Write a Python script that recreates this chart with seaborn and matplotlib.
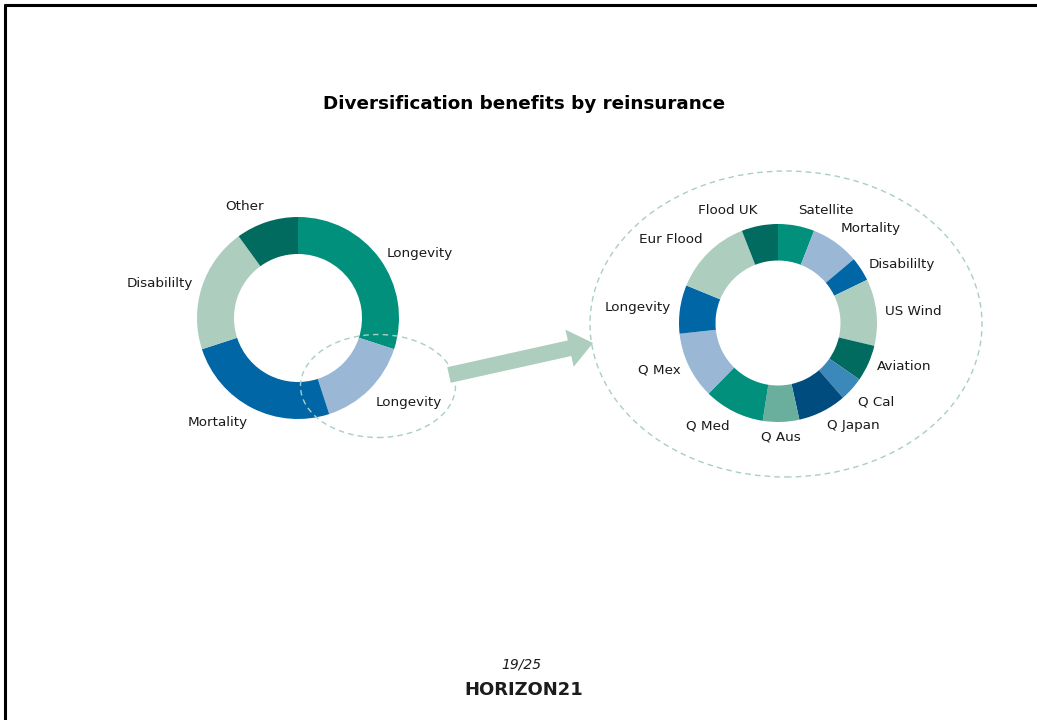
"""
Diversification benefits by reinsurance: two donut charts joined by an arrow.
"""

import matplotlib.pyplot as plt
import numpy as np
import seaborn as sns
from matplotlib.patches import Ellipse, FancyArrow

# --- data -------------------------------------------------------------------
PORTFOLIO_LABELS = ["Longevity", "Longevity", "Mortality", "Disabililty", "Other"]
PORTFOLIO_SHARES = [30, 15, 25, 20, 10]
PORTFOLIO_COLORS = ["teal", "light_blue", "blue", "pale_green", "dark_teal"]

REINSURED_LABELS = [
    "Satellite", "Mortality", "Disabililty", "US Wind", "Aviation", "Q Cal",
    "Q Japan", "Q Aus", "Q Med", "Q Mex", "Longevity", "Eur Flood", "Flood UK",
]
REINSURED_SHARES = [6, 8, 4, 11, 6, 4, 8, 6, 10, 11, 8, 13, 6]
REINSURED_COLORS = [
    "teal", "light_blue", "blue", "pale_green", "dark_teal", "mid_blue",
    "dark_blue", "teal_grey", "teal", "light_blue", "blue", "pale_green",
    "dark_teal",
]

TITLE = "Diversification benefits by reinsurance"
PAGE = "19/25"
LOGO = "HORIZON21"

PALETTE = {
    "teal": "#00907b",
    "light_blue": "#9bb7d6",
    "blue": "#0066a6",
    "pale_green": "#adcdbf",
    "dark_teal": "#006b5e",
    "mid_blue": "#3b88bb",
    "dark_blue": "#004c7f",
    "teal_grey": "#6aae9e",
}

W, H = 1037, 720
DASH_COLOR = "#a9cfc5"
TEXT_COLOR = "#1a1a1a"


def px(x, y):
    """Pixel position (origin top-left) -> data coords (origin bottom-left)."""
    return x, H - y


def donut(ax, shares, labels, colors, center, radius, inner):
    colors = sns.color_palette([PALETTE[c] for c in colors])
    wedges, texts = ax.pie(
        shares,
        labels=labels,
        colors=colors,
        center=center,
        radius=radius,
        startangle=90,
        counterclock=False,
        labeldistance=1.09,
        wedgeprops=dict(width=radius - inner, linewidth=0),
        textprops=dict(fontsize=9.7, color=TEXT_COLOR),
        frame=True,
    )
    # pie() aligns labels on the absolute x sign, which breaks off-origin centers
    for w, t in zip(wedges, texts):
        theta = np.deg2rad((w.theta1 + w.theta2) / 2)
        dx, dy = np.cos(theta), np.sin(theta)
        t.set_ha("left" if dx > 0.05 else "right" if dx < -0.05 else "center")
        t.set_va("bottom" if dy > 0.6 else "top" if dy < -0.6 else "center")
    return wedges


def main():
    sns.set_theme(style="white")
    plt.rcParams["font.family"] = ["DejaVu Sans"]

    fig = plt.figure(figsize=(W / 100, H / 100), dpi=100)
    ax = fig.add_axes([0, 0, 1, 1])

    donut(ax, PORTFOLIO_SHARES, PORTFOLIO_LABELS, PORTFOLIO_COLORS,
          center=px(298, 318), radius=101, inner=64)
    donut(ax, REINSURED_SHARES, REINSURED_LABELS, REINSURED_COLORS,
          center=px(778, 323), radius=99, inner=62.5)

    # dashed call-out ellipses
    ax.add_patch(Ellipse(px(378, 386), 155, 103, fill=False, ec=DASH_COLOR,
                         lw=1, ls=(0, (4, 3)), zorder=3))
    ax.add_patch(Ellipse(px(786, 324), 392, 306, fill=False, ec=DASH_COLOR,
                         lw=1, ls=(0, (4, 3)), zorder=3))

    # arrow from the longevity slice to the reinsured book
    x0, y0 = px(449, 375)
    x1, y1 = px(593, 343)
    ax.add_patch(FancyArrow(x0, y0, x1 - x0, y1 - y0, width=16, head_width=38,
                            head_length=24, length_includes_head=True,
                            color=PALETTE["pale_green"], lw=0, zorder=4))

    ax.text(*px(524, 104), TITLE, ha="center", va="center", fontsize=13.2,
            fontweight="bold", color="black")
    ax.text(*px(521, 664), PAGE, ha="center", va="center", fontsize=10,
            style="italic", color=TEXT_COLOR)
    ax.text(*px(524, 690), LOGO, ha="center", va="center", fontsize=13,
            fontweight="heavy", color="#1c1c1c")

    # page frame: top and left edges only
    ax.plot([4, W], [H - 5, H - 5], color="black", lw=2.2, solid_capstyle="butt")
    ax.plot([5, 5], [0, H - 4], color="black", lw=2.2, solid_capstyle="butt")

    ax.set_xlim(0, W)
    ax.set_ylim(0, H)
    ax.set_aspect("equal")
    ax.axis("off")

    fig.savefig("out.png", dpi=100, facecolor="white")
    plt.close(fig)


if __name__ == "__main__":
    main()
